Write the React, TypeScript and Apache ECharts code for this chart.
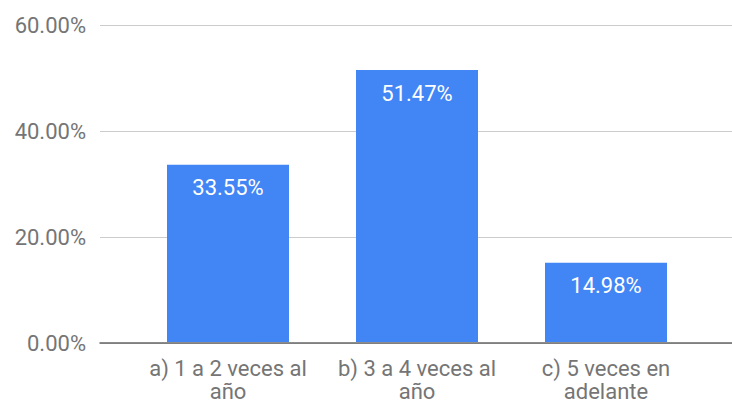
import React, { useEffect, useRef } from "react";
import * as echarts from "echarts";

const categories = ["a) 1 a 2 veces al\naño", "b) 3 a 4 veces al\naño", "c) 5 veces en\nadelante"];
const values = [33.55, 51.47, 14.98];
const yTicks = [0, 20, 40, 60];

export default function App() {
  const ref = useRef<HTMLDivElement>(null);
  useEffect(() => {
    const chart = echarts.init(ref.current!, null, { renderer: "svg" });
    const font = "Roboto, 'Noto Sans', sans-serif";
    chart.setOption({
      animation: false,
      grid: [
        { left: 100, right: 0, top: 25, bottom: 60 },
        { left: 133.5, right: 31.5, top: 25, bottom: 60 },
      ],
      xAxis: [
        {
          gridIndex: 0,
          type: "value",
          min: 0,
          max: 1,
          axisLabel: { show: false },
          axisTick: { show: false },
          splitLine: { show: false },
          axisLine: { show: true, onZero: false, lineStyle: { color: "#666", width: 1.5 } },
        },
        {
          gridIndex: 1,
          type: "category",
          data: categories,
          axisLine: { show: false },
          axisTick: { show: false },
          axisLabel: {
            color: "#757575",
            fontSize: 22,
            fontFamily: font,
            lineHeight: 23,
            margin: 15,
            interval: 0,
          },
        },
      ],
      yAxis: [
        {
          gridIndex: 0,
          type: "value",
          min: yTicks[0],
          max: yTicks[yTicks.length - 1],
          interval: 20,
          axisLine: { show: false },
          axisTick: { show: false },
          axisLabel: {
            color: "#757575",
            fontSize: 22,
            fontFamily: font,
            margin: 14,
            formatter: (v: number) => v.toFixed(2) + "%",
          },
          splitLine: { lineStyle: { color: "#ccc", width: 1 } },
        },
        {
          gridIndex: 1,
          type: "value",
          min: yTicks[0],
          max: yTicks[yTicks.length - 1],
          interval: 20,
          show: false,
          splitLine: { show: false },
        },
      ],
      series: [
        {
          type: "bar",
          xAxisIndex: 1,
          yAxisIndex: 1,
          data: values,
          barWidth: 122,
          itemStyle: { color: "#4285f4" },
          label: {
            show: true,
            position: "insideTop",
            distance: 12,
            color: "#fff",
            fontSize: 22,
            fontFamily: font,
            formatter: (p: any) => p.value.toFixed(2) + "%",
          },
        },
      ],
    });
    return () => chart.dispose();
  }, []);
  return <div ref={ref} style={{ width: 732, height: 403, position: "absolute", left: 0, top: 0, background: "#fff" }} />;
}
